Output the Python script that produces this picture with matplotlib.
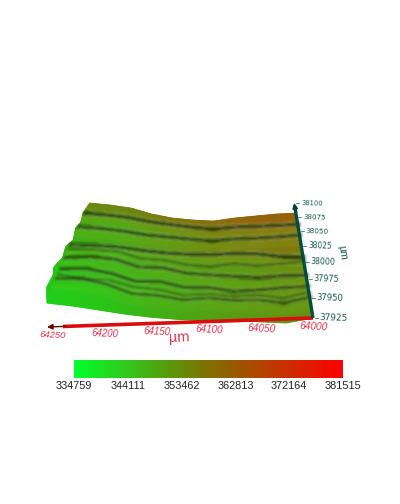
import numpy as np
import matplotlib
matplotlib.use('Agg')
import matplotlib.pyplot as plt
from matplotlib.colors import LinearSegmentedColormap

plt.rcParams['font.family'] = ['Liberation Sans', 'DejaVu Sans']

# data
x_ticks = [64250, 64200, 64150, 64100, 64050, 64000]
y_ticks = [38100, 38075, 38050, 38025, 38000, 37975, 37950, 37925]
bar_ticks = [334759, 344111, 353462, 362813, 372164, 381515]

# relief along the near and far edge of the sample
relief_x = [64250, 64225, 64200, 64175, 64150, 64125, 64100, 64075, 64050, 64025, 64000]
near_relief = [24, 20, 15, 10, 6, 3, 1, 0, -2, -4, 0]
far_relief = [11, 9, 6, 0, -4, -6, -7, -4, -2, 0, 1]

# left edge of the sample sticks out by this many um
edge_y = [37925, 37946, 37962, 37973, 37987, 38004, 38015, 38035, 38044, 38062, 38081]
edge_over = [0, 7, 6, 9, 4, 6, 1, 4, 1, 3, 0]

# surface values, rows go with value_y and columns with x_ticks
value_y = [37925, 37950, 37975, 38000, 38025, 38045, 38062, 38081]
values = [
    [336629, 338500, 343175, 346916, 348786, 350656],
    [337564, 339435, 343175, 345980, 348786, 349721],
    [339435, 341772, 344110, 346916, 348786, 350656],
    [342240, 343175, 345980, 347851, 349721, 351591],
    [344110, 345045, 348786, 352526, 354397, 356267],
    [345045, 345045, 348786, 351591, 354397, 355332],
    [348786, 348786, 351591, 355332, 358137, 359072],
    [352526, 353461, 355332, 357202, 360007, 360943],
]

# grooves in the surface, y position at each of relief_x
groove_1 = [38061, 38062, 38063, 38066, 38068, 38067, 38066, 38064, 38062, 38061, 38060]
groove_2 = [38037, 38038, 38039, 38042, 38045, 38045, 38044, 38043, 38042, 38042, 38042]
groove_3 = [38007, 38010, 38013, 38016, 38018, 38019, 38020, 38019, 38017, 38012, 38007]
groove_4 = [37987, 37992, 37994, 37990, 37994, 37989, 37988, 37984, 37982, 37984, 37980]
groove_5 = [37970, 37974, 37973, 37969, 37973, 37968, 37969, 37963, 37965, 37968, 37965]
groove_6 = [37957, 37961, 37958, 37952, 37954, 37951, 37955, 37951, 37952, 37949, 37951]
faint_1 = [38000, 38003, 38006, 38003, 38006, 38002, 38001, 38003, 37999, 38001, 38000]
faint_2 = [37962, 37960, 37964, 37961, 37962, 37957, 37960, 37956, 37958, 37955, 37957]

# how far each y tick sits from the far edge towards the near edge
tick_depth = [-0.106, 0.029, 0.163, 0.308, 0.462, 0.625, 0.808, 1.0]


def depth(y):
    return np.interp(y, y_ticks[::-1], tick_depth[::-1])


def project(x, y, z=0):
    # hand fitted perspective of the view, gives figure pixels
    x = np.asarray(x, dtype=float)
    u = (64250 - x) / 250
    v = depth(y)
    px = (1 - v) * (90 + 206 * u) + v * (47 + 266 * u)
    py = (1 - v) * 214 + v * (327 - 9 * u) - z
    return px, py


def relief(x, y):
    v = depth(y)
    near = np.interp(x, relief_x[::-1], near_relief[::-1])
    far = np.interp(x, relief_x[::-1], far_relief[::-1])
    return (1 - v) * far + v * near


def blur(image, dpi):
    # soft look of the grooves, same few passes along both directions
    pad = 4
    out = np.pad(image, ((pad, pad), (pad, pad), (0, 0)))
    kernel = np.array([1, 4, 6, 4, 1]) / 16
    for axis in (0, 1):
        out = np.apply_along_axis(lambda a: np.convolve(a, kernel, mode='same'), axis, out)
    return out, -pad, -pad


fig = plt.figure(figsize=(4.0, 5.04), dpi=100)
ax = fig.add_axes([0, 0, 1, 1])
ax.set_xlim(0, 400)
ax.set_ylim(504, 0)
ax.axis('off')

bar_cmap = LinearSegmentedColormap.from_list('bar', [(0, 1, 0.18), (0.5, 0.44, 0), (1, 0, 0)])
surf_cmap = LinearSegmentedColormap.from_list('surf', [(0.08, 0.85, 0.1), (0.56, 0.42, 0.05), (0.9, 0, 0)])

# surface
grid_y = np.linspace(37925, 38080, 90)
grid_s = np.linspace(0, 1, 130)
S, Y = np.meshgrid(grid_s, grid_y)
x_left = 64250 + np.interp(Y, edge_y, edge_over)
X = x_left + S * (64000 - x_left)
grid = np.array(values, dtype=float)
C = np.zeros_like(X)
for j in range(X.shape[1]):
    col = [np.interp(X[0, j], x_ticks[::-1], row[::-1]) for row in grid]
    C[:, j] = np.interp(Y[:, j], value_y, col)
PX, PY = project(X, Y, relief(X, Y))
ax.pcolormesh(PX, PY, C, cmap=surf_cmap, vmin=bar_ticks[0], vmax=bar_ticks[-1], shading='gouraud', zorder=2)

# grooves with a lit band just in front of each
gx = np.array(relief_x, dtype=float)
for groove, strength in [(groove_1, 1), (groove_2, 0.9), (groove_3, 1), (groove_4, 0.9),
                         (groove_5, 0.75), (groove_6, 0.7), (faint_1, 0.45), (faint_2, 0.4)]:
    gy = np.array(groove, dtype=float)
    px, py = project(gx, gy - 11, relief(gx, gy - 11))
    lit, = ax.plot(px, py, color=(0.55, 0.8, 0.12), lw=5, alpha=0.15 * strength, zorder=3)
    lit.set_agg_filter(blur)
    px, py = project(gx, gy, relief(gx, gy))
    soft, = ax.plot(px, py, color=(0.1, 0.2, 0), lw=3.8, alpha=0.5 * strength, zorder=3)
    soft.set_agg_filter(blur)
    core, = ax.plot(px, py, color=(0.08, 0.15, 0), lw=1.3, alpha=0.7 * strength, zorder=3)
    core.set_agg_filter(blur)

red = (0.85, 0.05, 0.05)
teal = (0.0, 0.3, 0.25)
label_red = (0.88, 0.2, 0.3)
label_teal = (0.1, 0.36, 0.3)

# x axis
px, py = project([64000, 64235], [37925, 37925])
ax.plot(px, py, color=red, lw=2.6, zorder=5, solid_capstyle='butt')
px, py = project([64232, 64250], [37925, 37925])
ax.annotate('', xy=(px[1], py[1]), xytext=(px[0], py[0]), zorder=6,
            arrowprops=dict(arrowstyle='-|>', color=(0.4, 0.03, 0.03), lw=1, mutation_scale=8, shrinkA=0, shrinkB=0))
for tick in x_ticks:
    px, py = project(tick, 37925)
    u = (64250 - tick) / 250
    ax.text(px + 6 - 5 * u, py + 8.5, str(tick), color=label_red, fontsize=6.8 + 0.5 * u, style='italic',
            ha='center', va='center', rotation=-3, zorder=7)
ax.text(179, 338, 'µm', color=label_red, fontsize=10.5, ha='center', va='center', rotation=2, zorder=7)

# y axis
px, py = project([64000, 64000], [37925, 38095])
ax.plot(px, py, color=teal, lw=2.4, zorder=6, solid_capstyle='butt')
px, py = project([64000, 64000], [38090, 38108])
ax.annotate('', xy=(px[1], py[1]), xytext=(px[0], py[0]), zorder=6,
            arrowprops=dict(arrowstyle='-|>', color=(0, 0.25, 0.2), lw=1, mutation_scale=8, shrinkA=0, shrinkB=0))
for tick in y_ticks:
    px, py = project(64000, tick)
    v = float(depth(tick))
    ax.plot([px + 2, px + 5], [py, py], color=label_teal, lw=0.5, zorder=5)
    ax.text(px + 18 + 3 * v, py, str(tick), color=label_teal, fontsize=5 + 1.4 * v, family='DejaVu Sans',
            ha='center', va='center', rotation=-2, zorder=7)
ax.text(342, 253, 'µm', color=label_teal, fontsize=7.5, ha='center', va='center', rotation=-82, zorder=7)

# colour bar
cax = fig.add_axes([74 / 400, 1 - 378 / 504, (343 - 74) / 400, 18 / 504])
cax.imshow(np.linspace(bar_ticks[0], bar_ticks[-1], 256).reshape(1, -1), aspect='auto', cmap=bar_cmap,
           extent=[bar_ticks[0], bar_ticks[-1], 0, 1])
cax.set_yticks([])
cax.set_xticks(bar_ticks)
cax.set_xticklabels([str(t) for t in bar_ticks], fontsize=7.8, color='#222222')
cax.tick_params(axis='x', length=0, pad=2)
for spine in cax.spines.values():
    spine.set_visible(False)
for label in cax.get_xticklabels():
    label.set_clip_on(False)

fig.savefig('out.png', dpi=100)
